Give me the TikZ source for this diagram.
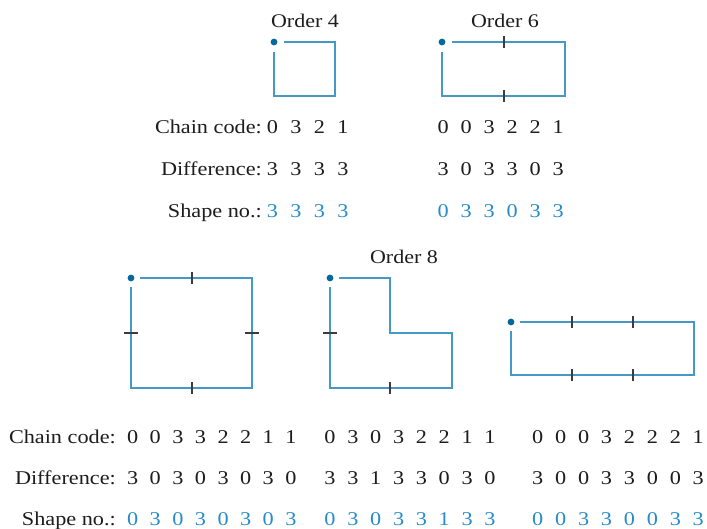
\documentclass[tikz,border=0pt]{standalone}
\usepackage{fontspec}
\setmainfont{Liberation Serif}[FakeStretch=1.14]
\definecolor{shapeblue}{RGB}{70,152,198}
\definecolor{dotblue}{RGB}{0,105,155}
\definecolor{digitblue}{RGB}{40,140,200}
\definecolor{tickgray}{RGB}{60,60,60}
\definecolor{txt}{RGB}{30,28,28}
\tikzset{
  shp/.style={draw=shapeblue, line width=2pt},
  tk/.style={draw=tickgray, line width=1.8pt},
  startdot/.style={fill=dotblue},
  lab/.style={anchor=base east, inner sep=0pt, text=txt, font=\fontsize{19.5}{23}\selectfont},
  ttl/.style={anchor=base, inner sep=0pt, text=txt, font=\fontsize{19.3}{23}\selectfont},
  dg/.style={anchor=base, inner sep=0pt, text=txt, font=\fontsize{19.5}{23}\selectfont},
  dgb/.style={dg, text=digitblue},
}
\begin{document}
\begin{tikzpicture}[x=1pt,y=-1pt]
\useasboundingbox (0,0) rectangle (707,529);

% ---------- Titles ----------
\node[ttl] (t4) at (305,27.5) {Order 4};
\node[ttl] (t6) at (505,27.5) {Order 6};
\node[ttl] (t8) at (404,264) {Order 8};

% ---------- Order 4 ----------
\fill[startdot] (274,42) circle (3.4);
\draw[shp] (284,42) -- (335,42) -- (335,96) -- (274,96) -- (274,52);

% ---------- Order 6 ----------
\fill[startdot] (442,42) circle (3.4);
\draw[shp] (452,42) -- (565,42) -- (565,96) -- (442,96) -- (442,52);
\draw[tk] (504,36) -- (504,48);
\draw[tk] (504,90) -- (504,102);

% ---------- Order 8, shape A ----------
\fill[startdot] (131,278) circle (3.4);
\draw[shp] (140,278) -- (252,278) -- (252,388) -- (131,388) -- (131,287);
\draw[tk] (192,272) -- (192,284);
\draw[tk] (192,382) -- (192,394);
\draw[tk] (124,333) -- (138,333);
\draw[tk] (245,333) -- (259,333);

% ---------- Order 8, shape B ----------
\fill[startdot] (330,278) circle (3.4);
\draw[shp] (339,278) -- (390,278) -- (390,333) -- (452,333) -- (452,388) -- (330,388) -- (330,287);
\draw[tk] (323,333) -- (337,333);
\draw[tk] (390,382) -- (390,394);

% ---------- Order 8, shape C ----------
\fill[startdot] (511,322) circle (3.4);
\draw[shp] (520,322) -- (694,322) -- (694,375) -- (511,375) -- (511,331);
\draw[tk] (572,316) -- (572,328);
\draw[tk] (633,316) -- (633,328);
\draw[tk] (572,369) -- (572,381);
\draw[tk] (633,369) -- (633,381);

% ---------- Top labels ----------
\node[lab] (lc1) at (262,134) {Chain code:};
\node[lab] (ld1) at (262,176) {Difference:};
\node[lab] (ls1) at (262,218) {Shape no.:};

% Order 4 digits
\foreach \d [count=\i from 0] in {0,3,2,1}
  \node[dg] (c4-\i) at (272.5+23.5*\i,134) {\d};
\foreach \d [count=\i from 0] in {3,3,3,3}
  \node[dg] (d4-\i) at (272.5+23.5*\i,176) {\d};
\foreach \d [count=\i from 0] in {3,3,3,3}
  \node[dgb] (s4-\i) at (272.5+23.5*\i,218) {\d};

% Order 6 digits
\foreach \d [count=\i from 0] in {0,0,3,2,2,1}
  \node[dg] (c6-\i) at (443.3+23*\i,134) {\d};
\foreach \d [count=\i from 0] in {3,0,3,3,0,3}
  \node[dg] (d6-\i) at (443.3+23*\i,176) {\d};
\foreach \d [count=\i from 0] in {0,3,3,0,3,3}
  \node[dgb] (s6-\i) at (443.3+23*\i,218) {\d};

% ---------- Bottom labels ----------
\node[lab] (lc2) at (116,443) {Chain code:};
\node[lab] (ld2) at (116,484) {Difference:};
\node[lab] (ls2) at (116,525) {Shape no.:};

% Group A
\foreach \d [count=\i from 0] in {0,0,3,3,2,2,1,1}
  \node[dg] (ca-\i) at (132.7+22.6*\i,443) {\d};
\foreach \d [count=\i from 0] in {3,0,3,0,3,0,3,0}
  \node[dg] (da-\i) at (132.7+22.6*\i,484) {\d};
\foreach \d [count=\i from 0] in {0,3,0,3,0,3,0,3}
  \node[dgb] (sa-\i) at (132.7+22.6*\i,525) {\d};

% Group B
\foreach \d [count=\i from 0] in {0,3,0,3,2,2,1,1}
  \node[dg] (cb-\i) at (330+22.86*\i,443) {\d};
\foreach \d [count=\i from 0] in {3,3,1,3,3,0,3,0}
  \node[dg] (db-\i) at (330+22.86*\i,484) {\d};
\foreach \d [count=\i from 0] in {0,3,0,3,3,1,3,3}
  \node[dgb] (sb-\i) at (330+22.86*\i,525) {\d};

% Group C
\foreach \d [count=\i from 0] in {0,0,0,3,2,2,2,1}
  \node[dg] (cc-\i) at (537.7+22.94*\i,443) {\d};
\foreach \d [count=\i from 0] in {3,0,0,3,3,0,0,3}
  \node[dg] (dc-\i) at (537.7+22.94*\i,484) {\d};
\foreach \d [count=\i from 0] in {0,0,3,3,0,0,3,3}
  \node[dgb] (sc-\i) at (537.7+22.94*\i,525) {\d};
\end{tikzpicture}
\end{document}
